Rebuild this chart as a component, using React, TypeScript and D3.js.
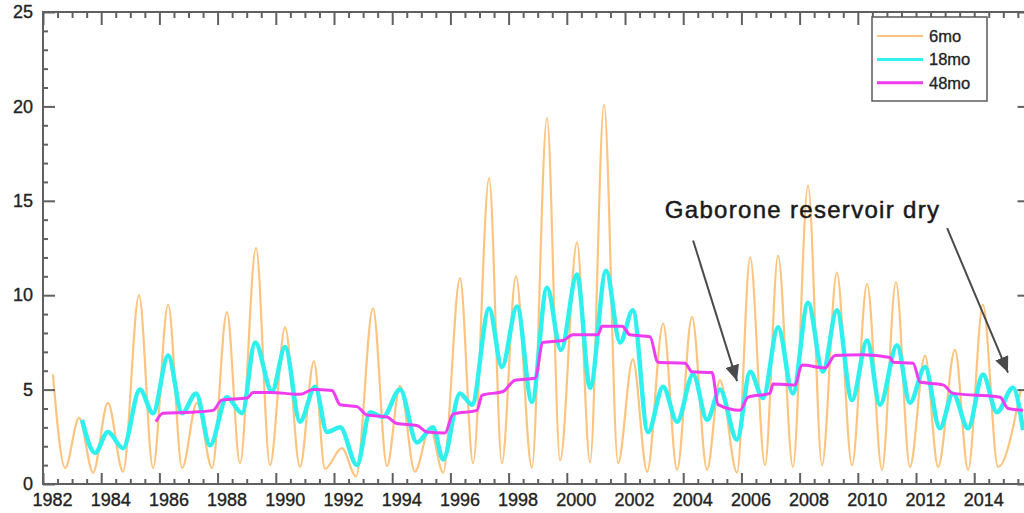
import React, { useEffect, useRef } from "react";
import * as d3 from "d3";

// [year, value]: alternating wet-season peaks and dry-season troughs
const sixMonth: [number, number][] = [
  [1982.34, 5.8], [1982.76, 0.85], [1983.24, 3.5], [1983.72, 0.6], [1984.23, 4.3], [1984.75, 0.65],
  [1985.3, 10.0], [1985.78, 0.85], [1986.3, 9.5], [1986.78, 0.85], [1987.29, 4.3], [1987.81, 0.85],
  [1988.32, 9.1], [1988.77, 1.1], [1989.32, 12.5], [1989.8, 1.0], [1990.32, 8.3], [1990.83, 0.9],
  [1991.31, 6.5], [1991.69, 0.8], [1992.27, 1.9], [1992.76, 0.4], [1993.34, 9.3], [1993.82, 0.95],
  [1994.27, 5.2], [1994.78, 0.65], [1995.3, 3.0], [1995.75, 0.6], [1996.33, 10.9], [1996.78, 1.1],
  [1997.33, 16.2], [1997.77, 1.1], [1998.25, 11.0], [1998.8, 0.85], [1999.32, 19.4], [1999.77, 1.25],
  [2000.35, 12.8], [2000.8, 1.15], [2001.28, 20.1], [2001.76, 1.1], [2002.27, 6.6], [2002.76, 0.65],
  [2003.31, 8.5], [2003.79, 0.75], [2004.3, 8.85], [2004.82, 0.75], [2005.26, 5.5], [2005.85, 0.6],
  [2006.3, 12.0], [2006.81, 1.0], [2007.26, 12.1], [2007.77, 0.9], [2008.29, 15.8], [2008.77, 1.0],
  [2009.28, 11.2], [2009.8, 1.0], [2010.32, 10.6], [2010.83, 0.75], [2011.31, 10.7], [2011.79, 0.9],
  [2012.31, 6.8], [2012.76, 0.9], [2013.34, 7.1], [2013.79, 0.75], [2014.3, 9.5], [2014.82, 0.9],
  [2015.6, 5.0],
];

const eighteenMonth: [number, number][] = [
  [1983.34, 3.4], [1983.79, 1.65], [1984.23, 2.75], [1984.75, 1.9], [1985.33, 5.0], [1985.78, 3.75],
  [1986.3, 6.8], [1986.78, 3.75], [1987.26, 4.8], [1987.74, 2.05], [1988.32, 4.6], [1988.84, 3.75],
  [1989.29, 7.5], [1989.87, 4.9], [1990.32, 7.25], [1990.83, 3.3], [1991.35, 5.15], [1991.76, 2.75],
  [1992.21, 3.0], [1992.79, 1.0], [1993.24, 3.8], [1993.68, 3.55], [1994.27, 5.0], [1994.85, 2.2],
  [1995.4, 3.0], [1995.75, 1.3], [1996.33, 4.8], [1996.74, 4.2], [1997.33, 9.3], [1997.77, 6.2],
  [1998.29, 9.4], [1998.8, 4.35], [1999.32, 10.4], [1999.8, 7.1], [2000.35, 11.1], [2000.8, 5.1],
  [2001.35, 11.3], [2001.83, 7.5], [2002.27, 9.2], [2002.79, 2.75], [2003.31, 5.15], [2003.79, 3.3],
  [2004.34, 5.8], [2004.82, 3.4], [2005.26, 5.0], [2005.85, 2.35], [2006.3, 5.95], [2006.74, 4.55],
  [2007.26, 8.3], [2007.77, 4.8], [2008.29, 9.6], [2008.8, 5.95], [2009.28, 9.2], [2009.8, 4.45],
  [2010.32, 7.6], [2010.76, 4.2], [2011.35, 7.35], [2011.79, 4.3], [2012.31, 6.2], [2012.82, 2.95],
  [2013.27, 4.8], [2013.79, 2.95], [2014.3, 5.8], [2014.78, 3.8], [2015.33, 5.1], [2015.68, 2.85],
];

const fortyEightMonth: [number, number][] = [
  [1985.88, 3.3], [1986.12, 3.75], [1987.05, 3.8], [1987.84, 3.9], [1988.15, 4.45], [1989.01, 4.55],
  [1989.22, 4.85], [1989.8, 4.85], [1990.83, 4.75], [1991.28, 5.0], [1991.93, 4.95], [1992.21, 4.2],
  [1992.79, 4.1], [1993.13, 3.65], [1993.82, 3.55], [1994.16, 3.2], [1994.85, 3.1], [1995.2, 2.75],
  [1995.81, 2.7], [1996.09, 3.7], [1996.91, 3.9], [1997.09, 4.7], [1997.81, 4.9], [1998.22, 5.5],
  [1998.91, 5.6], [1999.18, 7.5], [1999.87, 7.6], [2000.21, 7.9], [2001.07, 7.9], [2001.21, 8.35],
  [2001.9, 8.35], [2002.17, 7.9], [2002.86, 7.8], [2003.13, 6.45], [2004.06, 6.4], [2004.3, 5.95],
  [2004.99, 5.9], [2005.2, 4.2], [2005.95, 3.9], [2006.23, 4.6], [2006.98, 4.8], [2007.09, 5.3],
  [2007.84, 5.25], [2008.08, 6.3], [2008.87, 6.15], [2009.22, 6.8], [2010.18, 6.85], [2011.11, 6.7],
  [2011.21, 6.45], [2011.9, 6.4], [2012.14, 5.4], [2012.93, 5.25], [2013.27, 4.8], [2014.89, 4.6],
  [2015.16, 4.0], [2015.68, 3.9],
];

const seriesNames = ["6mo", "18mo", "48mo"];
const seriesColors = ["#fdc47f", "#30f0ee", "#f03cf0"];
const seriesWidths = [2.2, 4.5, 3];

const xTickYears = [1982, 1984, 1986, 1988, 1990, 1992, 1994, 1996, 1998, 2000, 2002, 2004, 2006, 2008, 2010, 2012, 2014];
const yTicks = [0, 5, 10, 15, 20, 25];

const annotationText = "Gaborone reservoir dry";
const annotationAt: [number, number] = [2003.37, 14.1];
const arrows: { from: [number, number]; to: [number, number] }[] = [
  { from: [2004.34, 12.9], to: [2005.85, 5.45] },
  { from: [2013.07, 13.55], to: [2015.16, 5.9] },
];

const W = 1024;
const H = 513;

const App = () => {
  const svgRef = useRef<SVGSVGElement>(null);

  useEffect(() => {
    const svg = d3.select(svgRef.current);
    svg.selectAll("*").remove();

    const x = d3.scaleLinear().domain([1982, 2015.9]).range([43, 1029.5]);
    const y = d3.scaleLinear().domain([0, 25]).range([484, 12]);
    const font = "Liberation Sans, Arial, Helvetica, sans-serif";
    const axisColor = "#606060";

    svg.append("rect").attr("width", W).attr("height", H).attr("fill", "#fff");

    const defs = svg.append("defs");
    defs
      .append("clipPath")
      .attr("id", "plot")
      .append("rect")
      .attr("x", x(1982))
      .attr("y", y(25))
      .attr("width", x(2015.9) - x(1982))
      .attr("height", y(0) - y(25));
    defs
      .append("marker")
      .attr("id", "head")
      .attr("markerUnits", "userSpaceOnUse")
      .attr("viewBox", "0 0 16 14")
      .attr("refX", 16)
      .attr("refY", 7)
      .attr("markerWidth", 16)
      .attr("markerHeight", 14)
      .attr("orient", "auto")
      .append("path")
      .attr("d", "M0,0L16,7L0,14Z")
      .attr("fill", "#4a4a4a");

    // series, smoothed through the read-off extremes
    const line = d3
      .line<[number, number]>()
      .x((d) => x(d[0]))
      .y((d) => y(d[1]))
      .curve(d3.curveMonotoneX);
    const lines = svg.append("g").attr("clip-path", "url(#plot)").attr("fill", "none");
    [sixMonth, eighteenMonth, fortyEightMonth].forEach((data, i) => {
      lines
        .append("path")
        .datum(data)
        .attr("d", line)
        .attr("stroke", seriesColors[i])
        .attr("stroke-width", seriesWidths[i])
        .attr("stroke-linejoin", "round");
    });

    // axes
    const halfYears = d3.range(1982, 2016, 0.5).filter((d) => d % 2 !== 0);
    const minorY = d3.range(0, 26, 1).filter((d) => d % 5 !== 0);

    const styleAxis = (g: any) => {
      g.select(".domain").remove();
      g.selectAll("line").attr("stroke", axisColor).attr("stroke-width", 2);
      g.selectAll("text")
        .attr("fill", "#222")
        .attr("stroke", "#222")
        .attr("stroke-width", 0.35)
        .style("font-family", font)
        .style("font-size", "18px");
    };

    svg
      .append("g")
      .attr("transform", `translate(0,${y(0)})`)
      .call(d3.axisBottom(x).tickValues(xTickYears).tickSizeInner(-11).tickSizeOuter(0).tickPadding(9).tickFormat(d3.format("d")))
      .call(styleAxis)
      .call((g) => g.selectAll("text").attr("x", 9));
    svg
      .append("g")
      .attr("transform", `translate(0,${y(0)})`)
      .call(d3.axisBottom(x).tickValues(halfYears).tickSizeInner(-5).tickSizeOuter(0).tickFormat(() => ""))
      .call(styleAxis);
    svg
      .append("g")
      .attr("transform", `translate(0,${y(25)})`)
      .call(d3.axisTop(x).tickValues(xTickYears).tickSizeInner(-13).tickSizeOuter(0).tickFormat(() => ""))
      .call(styleAxis);
    svg
      .append("g")
      .attr("transform", `translate(0,${y(25)})`)
      .call(d3.axisTop(x).tickValues(halfYears).tickSizeInner(-6).tickSizeOuter(0).tickFormat(() => ""))
      .call(styleAxis);
    svg
      .append("g")
      .attr("transform", `translate(${x(1982)},0)`)
      .call(d3.axisLeft(y).tickValues(yTicks).tickSizeInner(-12).tickSizeOuter(0).tickPadding(10))
      .call(styleAxis);
    svg
      .append("g")
      .attr("transform", `translate(${x(1982)},0)`)
      .call(d3.axisLeft(y).tickValues(minorY).tickSizeInner(-5).tickSizeOuter(0).tickFormat(() => ""))
      .call(styleAxis);
    svg
      .append("g")
      .attr("transform", `translate(${x(2015.9)},0)`)
      .call(d3.axisRight(y).tickValues(yTicks).tickSizeInner(-12).tickSizeOuter(0).tickFormat(() => ""))
      .call(styleAxis);
    svg
      .append("g")
      .attr("transform", `translate(${x(2015.9)},0)`)
      .call(d3.axisRight(y).tickValues(minorY).tickSizeInner(-5).tickSizeOuter(0).tickFormat(() => ""))
      .call(styleAxis);

    svg
      .append("rect")
      .attr("x", x(1982))
      .attr("y", y(25))
      .attr("width", x(2015.9) - x(1982))
      .attr("height", y(0) - y(25))
      .attr("fill", "none")
      .attr("stroke", axisColor)
      .attr("stroke-width", 2);

    // legend
    const legend = svg.append("g").attr("transform", "translate(872,17)");
    legend
      .append("rect")
      .attr("width", 115)
      .attr("height", 84)
      .attr("fill", "#fff")
      .attr("stroke", "#5a5a5a")
      .attr("stroke-width", 1.5);
    seriesNames.forEach((name, i) => {
      const ry = 19 + i * 23.4;
      legend
        .append("line")
        .attr("x1", 5)
        .attr("x2", 51)
        .attr("y1", ry)
        .attr("y2", ry)
        .attr("stroke", seriesColors[i])
        .attr("stroke-width", i === 0 ? 2 : 3);
      legend
        .append("text")
        .attr("x", 57)
        .attr("y", ry + 6)
        .style("font-family", font)
        .style("font-size", "16.5px")
        .attr("fill", "#222")
        .attr("stroke", "#222")
        .attr("stroke-width", 0.3)
        .text(name);
    });

    // annotation
    svg
      .append("text")
      .attr("x", x(annotationAt[0]))
      .attr("y", y(annotationAt[1]))
      .style("font-family", font)
      .style("font-size", "24px")
      .style("letter-spacing", "1.3px")
      .attr("fill", "#1a1a1a")
      .attr("stroke", "#1a1a1a")
      .attr("stroke-width", 0.5)
      .text(annotationText);
    arrows.forEach((a) => {
      svg
        .append("line")
        .attr("x1", x(a.from[0]))
        .attr("y1", y(a.from[1]))
        .attr("x2", x(a.to[0]))
        .attr("y2", y(a.to[1]))
        .attr("stroke", "#4a4a4a")
        .attr("stroke-width", 2)
        .attr("marker-end", "url(#head)");
    });
  }, []);

  return <svg ref={svgRef} width={W} height={H} style={{ position: "absolute", left: 0, top: 0 }}></svg>;
};

export default App;
